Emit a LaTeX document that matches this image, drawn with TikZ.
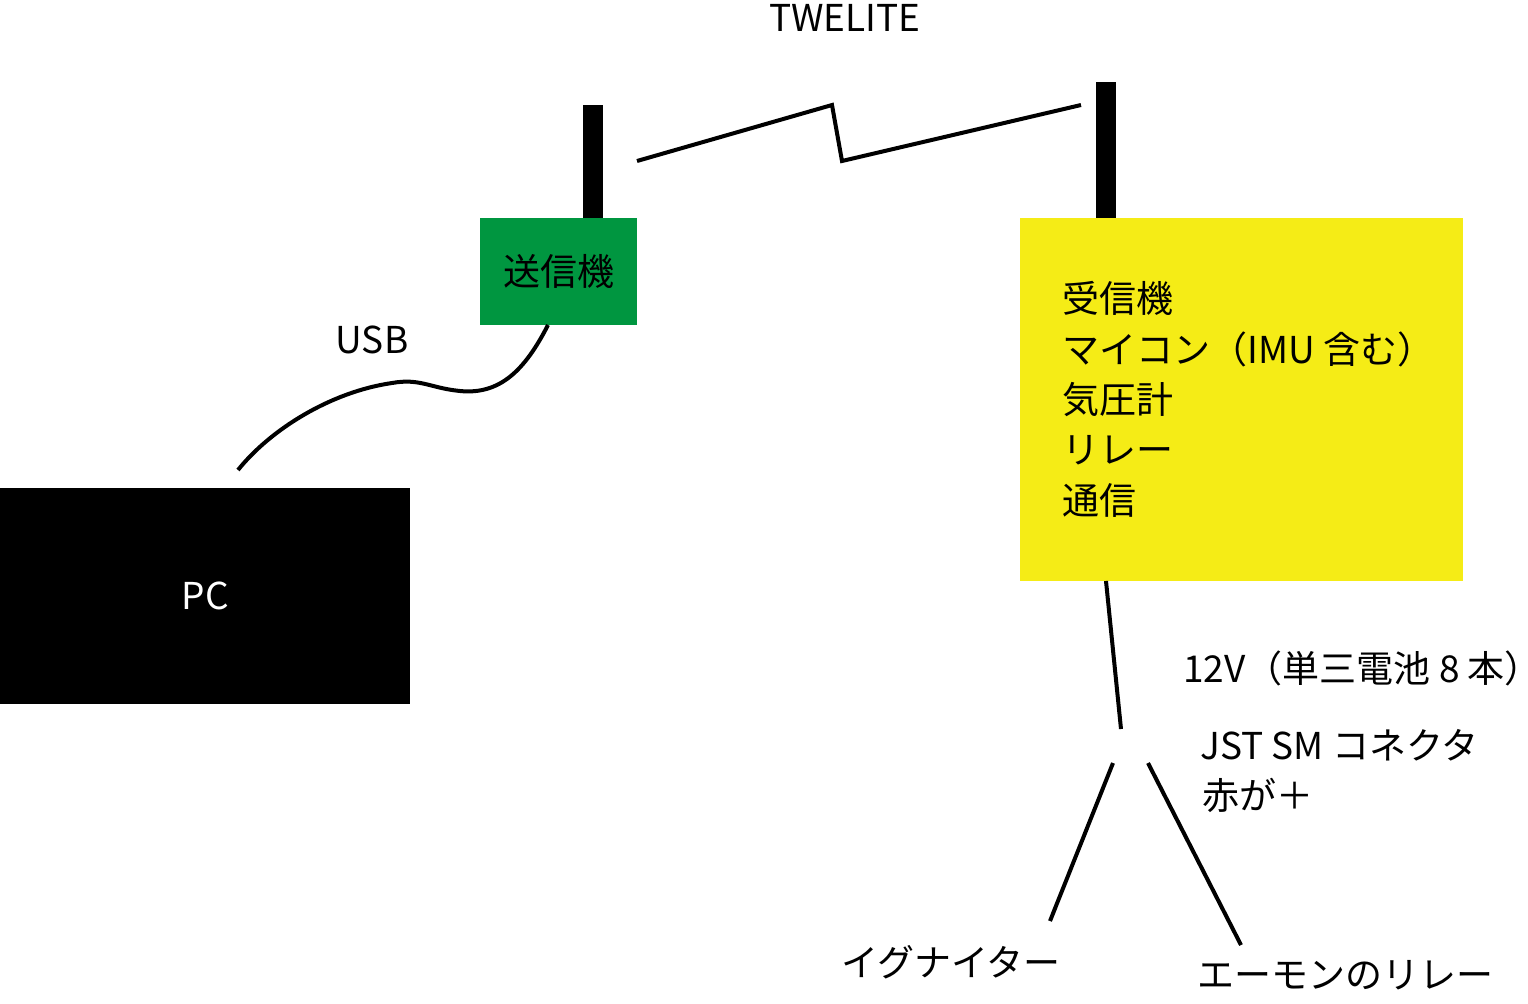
\documentclass[tikz,border=0pt]{standalone}
\usepackage{fontspec}
\setmainfont{Noto Sans CJK JP}
\usetikzlibrary{positioning}
\definecolor{txgreen}{RGB}{0,150,64}
\definecolor{rxyellow}{RGB}{245,236,22}
\tikzset{
  wire/.style={line width=2pt},
  lbl/.style={font=\fontsize{18.5}{25.2}\selectfont, inner sep=0pt},
  antenna/.style={fill=black},
}
\begin{document}
\begin{tikzpicture}[x=0.5pt,y=-0.5pt]
\useasboundingbox (0,0) rectangle (1528,1003);
% units
\node[fill=txgreen, minimum width=78.5pt, minimum height=53.5pt, anchor=north west, lbl] (tx) at (480,218) {送信機};
\node[fill=rxyellow, minimum width=221.5pt, minimum height=181.5pt, anchor=north west, inner sep=0pt] (rx) at (1020,218) {};
\node[fill=black, minimum width=205pt, minimum height=108pt, anchor=north west, lbl, text=white] (pc) at (0,488) {PC};
\node[lbl, anchor=north west, align=left] (rxtext) at (1062,281) {受信機\\マイコン（IMU 含む）\\気圧計\\リレー\\通信};
% antennas
\fill[antenna] (583,105) rectangle (603,218);
\fill[antenna] (1096,82) rectangle (1116,218);
\coordinate (wl) at (637,161);
\coordinate (wr) at (1081,105);
\draw[wire] (wl) -- (832,105) -- (842,161) -- (wr);
\node[lbl] (tw) at (845,18) {TWELITE};
% usb
\coordinate (usbend) at (238,470);
\draw[wire] (548,325) .. controls (525,370) and (500,395) .. (460,391)
  .. controls (430,388) and (420,378) .. (392,383)
  .. controls (330,392) and (270,430) .. (usbend);
\node[lbl] (usb) at (372,340) {USB};
% power
\coordinate (pw) at (1121,729);
\coordinate (ja) at (1113,763);
\coordinate (jb) at (1148,763);
\coordinate (ig) at (1050,921);
\coordinate (am) at (1241,945);
\draw[wire] (1106,581) -- (pw);
\draw[wire] (ja) -- (ig);
\draw[wire] (jb) -- (am);
\node[lbl, anchor=west] (v12) at (1183,668) {12V（単三電池 8 本）\kern-0.5em};
\node[lbl, anchor=west] (jst) at (1200,745) {JST SM コネクタ};
\node[lbl, anchor=west] (red) at (1202,795) {赤が＋};
\node[lbl] (ign) at (951,962) {イグナイター};
\node[lbl, anchor=west] (amon) at (1197,975) {エーモンのリレー};
\end{tikzpicture}
\end{document}
